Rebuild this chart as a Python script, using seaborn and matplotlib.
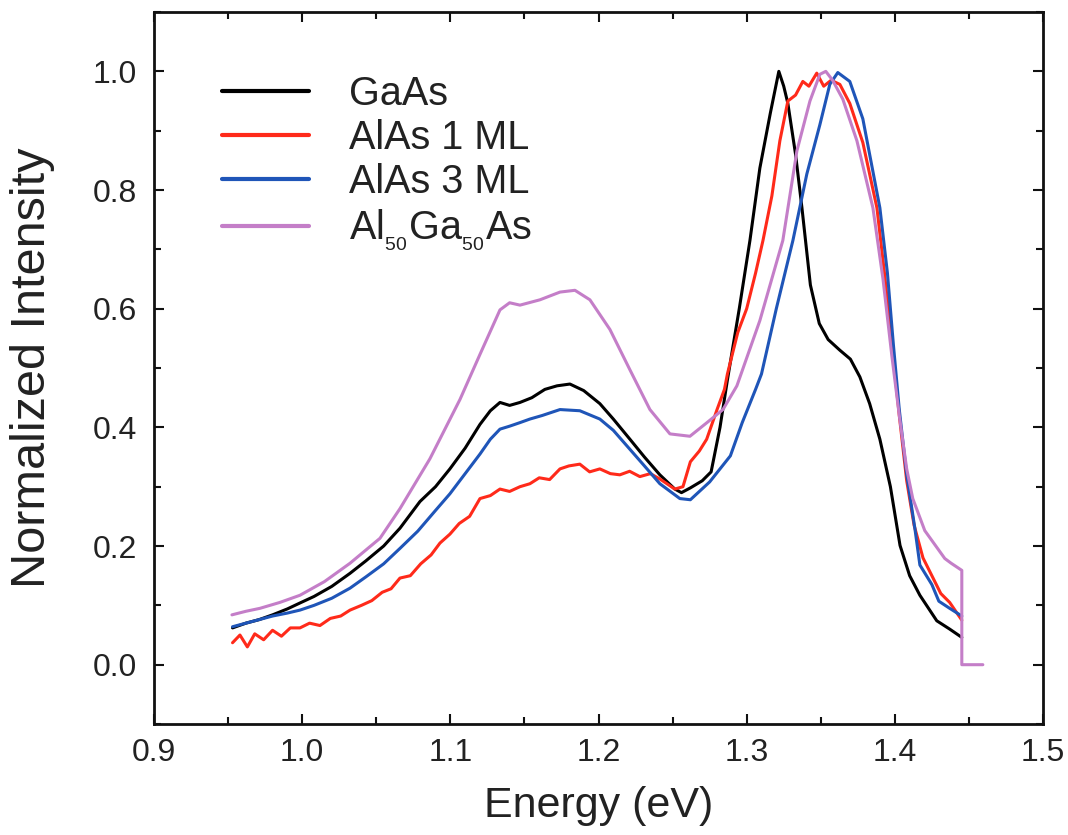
import numpy as np
import pandas as pd
import matplotlib
matplotlib.use("Agg")
import matplotlib.pyplot as plt
from matplotlib.lines import Line2D
from matplotlib.ticker import MultipleLocator
import seaborn as sns

# Photoluminescence spectra (normalized)
gaas_e = [0.953, 0.962, 0.971, 0.980, 0.990, 0.9985, 1.008, 1.020, 1.0323, 1.043, 1.055, 1.066,
          1.0795, 1.090, 1.0997, 1.110, 1.120, 1.127, 1.1335, 1.140, 1.147, 1.155, 1.1638, 1.172,
          1.1807, 1.190, 1.2009, 1.210, 1.2212, 1.231, 1.2414, 1.2515, 1.256, 1.262, 1.270, 1.276,
          1.282, 1.287, 1.295, 1.3022, 1.3089, 1.316, 1.3217, 1.325, 1.3278, 1.333, 1.3373, 1.343,
          1.349, 1.355, 1.3629, 1.370, 1.3764, 1.383, 1.3899, 1.397, 1.4035, 1.410, 1.4169, 1.4283,
          1.437, 1.4452]
gaas_i = [0.062, 0.070, 0.076, 0.084, 0.094, 0.104, 0.115, 0.132, 0.154, 0.175, 0.200, 0.230,
          0.275, 0.300, 0.330, 0.365, 0.405, 0.428, 0.442, 0.437, 0.442, 0.450, 0.464, 0.470,
          0.473, 0.462, 0.440, 0.414, 0.380, 0.350, 0.320, 0.296, 0.290, 0.298, 0.310, 0.325,
          0.400, 0.480, 0.600, 0.715, 0.837, 0.930, 1.000, 0.975, 0.946, 0.860, 0.770, 0.640,
          0.575, 0.548, 0.530, 0.515, 0.485, 0.440, 0.380, 0.300, 0.201, 0.150, 0.117, 0.074,
          0.060, 0.046]

alas1_e = [0.953, 0.958, 0.963, 0.968, 0.974, 0.980, 0.986, 0.992, 0.9985, 1.005, 1.012, 1.019,
           1.026, 1.0323, 1.040, 1.047, 1.054, 1.060, 1.066, 1.073, 1.080, 1.087, 1.093, 1.0997,
           1.106, 1.113, 1.120, 1.127, 1.1335, 1.140, 1.147, 1.1537, 1.160, 1.167, 1.174, 1.180,
           1.1874, 1.194, 1.2009, 1.208, 1.2144, 1.221, 1.2279, 1.235, 1.2414, 1.2515, 1.257,
           1.262, 1.268, 1.273, 1.280, 1.285, 1.287, 1.294, 1.300, 1.306, 1.311, 1.317, 1.3224,
           1.3278, 1.333, 1.3379, 1.342, 1.3473, 1.352, 1.357, 1.3629, 1.3696, 1.3784, 1.3879,
           1.393, 1.398, 1.403, 1.408, 1.413, 1.419, 1.425, 1.431, 1.437, 1.4452]
alas1_i = [0.037, 0.050, 0.030, 0.052, 0.042, 0.058, 0.048, 0.062, 0.062, 0.070, 0.066, 0.078,
           0.082, 0.092, 0.100, 0.108, 0.122, 0.128, 0.146, 0.150, 0.170, 0.185, 0.205, 0.220,
           0.238, 0.250, 0.280, 0.285, 0.296, 0.292, 0.300, 0.305, 0.315, 0.312, 0.330, 0.335,
           0.338, 0.325, 0.330, 0.322, 0.320, 0.326, 0.317, 0.322, 0.313, 0.296, 0.300,
           0.342, 0.360, 0.380, 0.430, 0.464, 0.490, 0.560, 0.600, 0.660, 0.715, 0.790, 0.883,
           0.950, 0.960, 0.983, 0.975, 0.997, 0.975, 0.985, 0.978, 0.946, 0.880, 0.770,
           0.660, 0.540, 0.420, 0.310, 0.235, 0.180, 0.150, 0.120, 0.105, 0.075]

alas3_e = [0.953, 0.962, 0.971, 0.980, 0.990, 0.9985, 1.008, 1.020, 1.0323, 1.043, 1.055, 1.066,
           1.078, 1.090, 1.0997, 1.110, 1.120, 1.127, 1.1335, 1.140, 1.147, 1.1537, 1.162, 1.174,
           1.1874, 1.2009, 1.210, 1.2212, 1.231, 1.2414, 1.2549, 1.262, 1.275, 1.289, 1.297,
           1.306, 1.310, 1.320, 1.3312, 1.3406, 1.3494, 1.3561, 1.3615, 1.3696, 1.3784, 1.3899,
           1.395, 1.399, 1.403, 1.408, 1.4135, 1.4169, 1.425, 1.4297, 1.437, 1.4452]
alas3_i = [0.064, 0.070, 0.076, 0.082, 0.087, 0.092, 0.100, 0.112, 0.129, 0.148, 0.170, 0.196,
           0.225, 0.260, 0.288, 0.322, 0.355, 0.380, 0.397, 0.402, 0.408, 0.414, 0.420, 0.430,
           0.428, 0.414, 0.395, 0.363, 0.335, 0.305, 0.280, 0.278, 0.308, 0.352, 0.408,
           0.464, 0.490, 0.600, 0.715, 0.827, 0.910, 0.978, 0.998, 0.983, 0.920, 0.770,
           0.660, 0.540, 0.430, 0.320, 0.230, 0.168, 0.135, 0.107, 0.095, 0.082]

algaas_e = [0.9526, 0.962, 0.9715, 0.985, 0.9985, 1.015, 1.0323, 1.0525, 1.066, 1.0862, 1.1065,
            1.120, 1.1335, 1.140, 1.147, 1.1605, 1.174, 1.1841, 1.1942, 1.2077, 1.2212, 1.2347,
            1.2482, 1.2617, 1.2732, 1.284, 1.2934, 1.3089, 1.3244, 1.3339, 1.3427, 1.3494, 1.3534,
            1.358, 1.3649, 1.3744, 1.3852, 1.392, 1.398, 1.403, 1.408, 1.4121, 1.4202, 1.4337,
            1.438, 1.4452, 1.4452, 1.4594]
algaas_i = [0.084, 0.090, 0.095, 0.105, 0.117, 0.140, 0.171, 0.213, 0.263, 0.347, 0.447,
            0.523, 0.598, 0.610, 0.606, 0.615, 0.628, 0.631, 0.615, 0.565, 0.497, 0.430,
            0.389, 0.385, 0.408, 0.430, 0.470, 0.580, 0.715, 0.866, 0.950, 0.995, 1.000,
            0.985, 0.953, 0.883, 0.770, 0.650, 0.520, 0.420, 0.330, 0.280, 0.226, 0.179,
            0.171, 0.159, 0.000, 0.000]

samples = ["GaAs", "AlAs 1 ML", "AlAs 3 ML", r"Al$_{_{50}}$Ga$_{_{50}}$As"]
colors = ["#000000", "#ff2a1a", "#1f55b8", "#c47ec8"]

frames = []
for name, e, i in zip(samples,
                      [gaas_e, alas1_e, alas3_e, algaas_e],
                      [gaas_i, alas1_i, alas3_i, algaas_i]):
    frames.append(pd.DataFrame({"Energy": e, "Intensity": i, "Sample": name}))
df = pd.concat(frames, ignore_index=True)

sns.set_style("ticks")
plt.rcParams["font.family"] = ["Liberation Sans", "DejaVu Sans"]
plt.rcParams["mathtext.default"] = "regular"
text_color = "#222222"

fig = plt.figure(figsize=(10.68, 8.35), dpi=100)
ax = fig.add_axes([0.1442, 0.1329, 0.8324, 0.8527])

sns.lineplot(data=df, x="Energy", y="Intensity", hue="Sample", hue_order=samples,
             palette=colors, estimator=None, sort=False, linewidth=2.2,
             legend=False, ax=ax)

ax.set_xlim(0.9, 1.5)
ax.set_ylim(-0.1, 1.1)
ax.xaxis.set_major_locator(MultipleLocator(0.1))
ax.xaxis.set_minor_locator(MultipleLocator(0.05))
ax.yaxis.set_major_locator(MultipleLocator(0.2))
ax.yaxis.set_minor_locator(MultipleLocator(0.1))
ax.set_yticks([0.0, 0.2, 0.4, 0.6, 0.8, 1.0])
ax.set_xticklabels([f"{v:.1f}" for v in ax.get_xticks()])
ax.set_yticklabels([f"{v:.1f}" for v in ax.get_yticks()])

ax.tick_params(which="both", direction="in", top=True, right=True,
               width=1.5, colors="#111111", labelcolor=text_color, labelsize=23)
ax.tick_params(which="major", length=7)
ax.tick_params(which="minor", length=5)
ax.tick_params(axis="x", pad=10)
ax.tick_params(axis="y", pad=12)
for s in ax.spines.values():
    s.set_linewidth(2.0)
    s.set_color("#111111")

ax.set_xlabel("Energy (eV)", fontsize=31, color=text_color, labelpad=13)
ax.set_ylabel("Normalized Intensity", fontsize=35, color=text_color, labelpad=27)

handles = [Line2D([], [], color=c, lw=3) for c in colors]
ax.legend(handles, samples, loc="upper left", bbox_to_anchor=(0.0765, 0.912),
          frameon=False, fontsize=28.5, handlelength=2.2, handletextpad=1.0,
          labelspacing=0.16, borderaxespad=0, borderpad=0, labelcolor=text_color)

fig.savefig("out.png", dpi=100, facecolor="white")
